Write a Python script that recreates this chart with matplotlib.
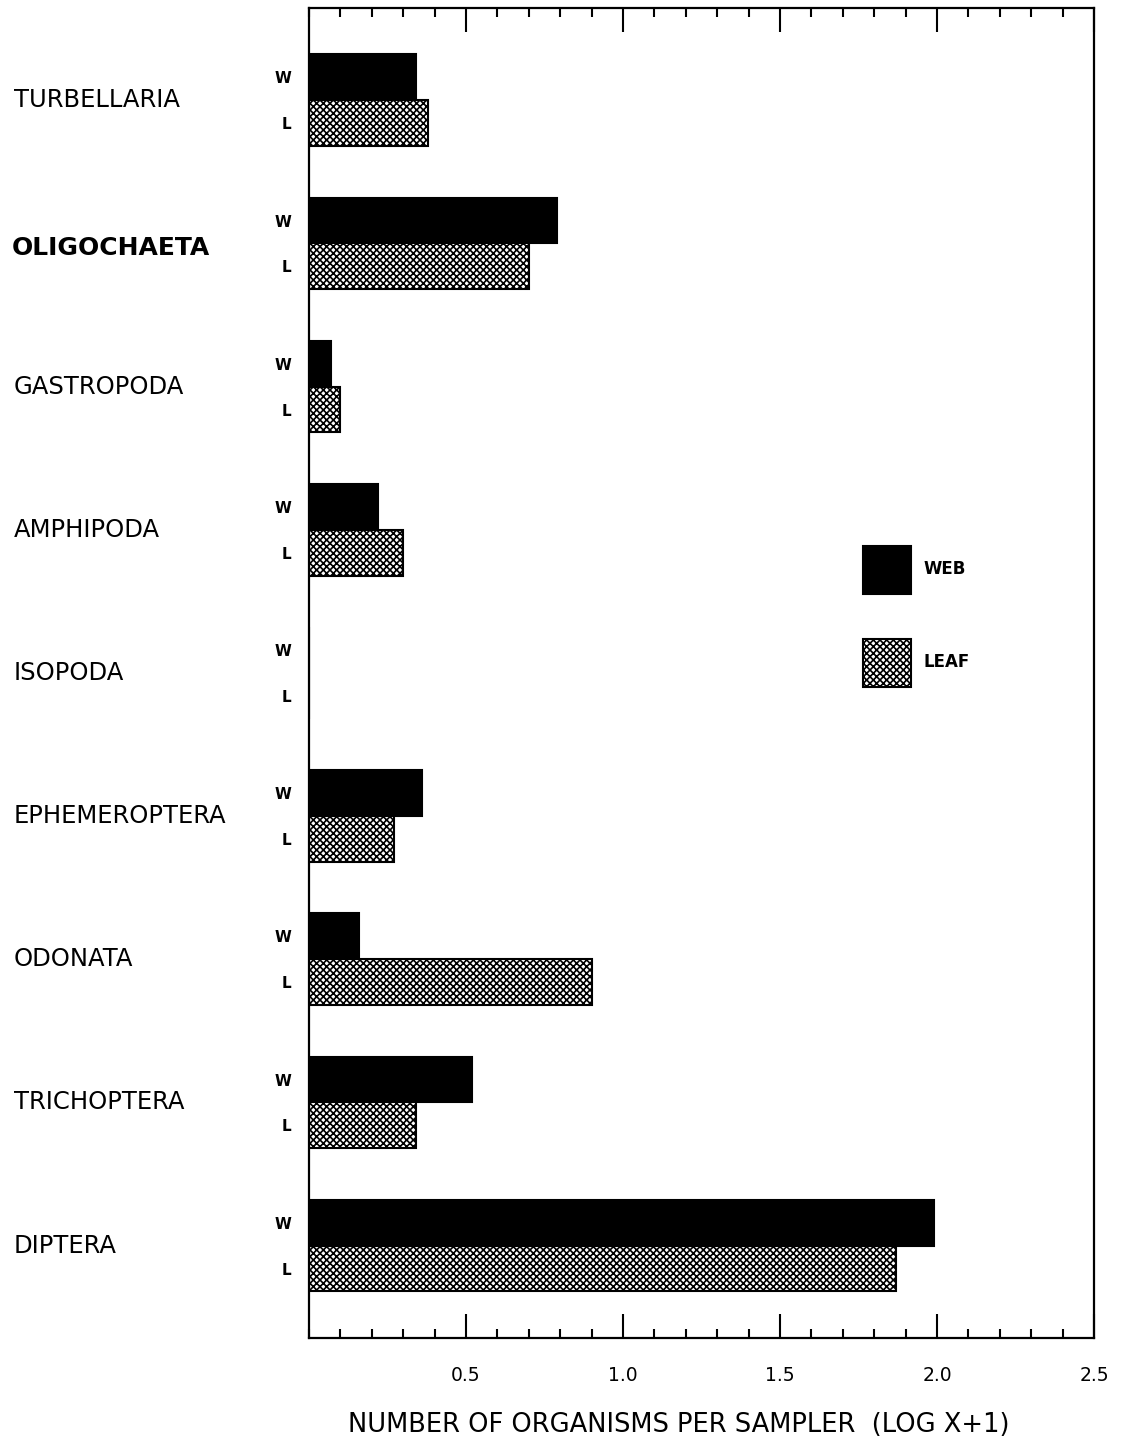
import matplotlib
matplotlib.use("Agg")
import matplotlib.pyplot as plt
from matplotlib.ticker import MultipleLocator, FixedLocator
from matplotlib.transforms import blended_transform_factory
import numpy as np

# Mean abundance per sampler, log(x+1)
taxa = ["TURBELLARIA", "OLIGOCHAETA", "GASTROPODA", "AMPHIPODA", "ISOPODA",
        "EPHEMEROPTERA", "ODONATA", "TRICHOPTERA", "DIPTERA"]
web = [0.34, 0.79, 0.07, 0.22, 0.0, 0.36, 0.16, 0.52, 1.99]
leaf = [0.38, 0.70, 0.10, 0.30, 0.0, 0.27, 0.90, 0.34, 1.87]
xticks = [0.5, 1.0, 1.5, 2.0, 2.5]
xticklabels = ["0.5", "1.0", "1.5", "2.0", "2.5"]

plt.rcParams["font.family"] = "DejaVu Sans"
plt.rcParams["hatch.linewidth"] = 1.2

fig = plt.figure(figsize=(11.23, 14.43), dpi=100)
ax = fig.add_axes([0.2752, 0.0728, 0.699, 0.9217])

y = np.arange(len(taxa))
h = 0.32
web_bars = ax.barh(y - h / 2, web, height=h, color="black", edgecolor="black",
                   linewidth=1.5, label="WEB")
leaf_bars = ax.barh(y + h / 2, leaf, height=h, color="white", edgecolor="black",
                    hatch="xxxxx", linewidth=1.5, label="LEAF")

ax.set_xlim(0, 2.5)
ax.set_ylim(len(taxa) - 1 + 0.645, -0.645)

# x axis: major every 0.5, minor every 0.1, ticks inside on top and bottom
ax.xaxis.set_major_locator(FixedLocator(xticks))
ax.set_xticklabels(xticklabels)
ax.xaxis.set_minor_locator(MultipleLocator(0.1))
ax.tick_params(axis="x", which="both", direction="in", top=True, bottom=True,
               width=1.5, labelsize=13.5, pad=20)
ax.tick_params(axis="x", which="major", length=17)
ax.tick_params(axis="x", which="minor", length=6.5)

# y axis: W / L marks next to each bar
wl_pos = np.concatenate([y - h / 2, y + h / 2])
wl_lab = ["W"] * len(taxa) + ["L"] * len(taxa)
ax.yaxis.set_major_locator(FixedLocator(wl_pos))
ax.set_yticklabels(wl_lab, fontsize=11, fontweight="bold")
ax.tick_params(axis="y", length=0, pad=13)

for s in ax.spines.values():
    s.set_linewidth(1.6)

# taxon names on the left
name_tr = blended_transform_factory(fig.transFigure, ax.transData)
for i, name in enumerate(taxa):
    bold = name == "OLIGOCHAETA"
    ax.text((12 if bold else 14) / 1123, i + (0.03 if bold else 0), name,
            transform=name_tr, ha="left", va="center",
            fontsize=18 if bold else 17.5, fontweight="bold" if bold else "normal")

fig.text(679 / 1123, 1 - 1425 / 1443, "NUMBER OF ORGANISMS PER SAMPLER  (LOG X+1)",
         ha="center", va="center", fontsize=18.5)

ax.legend(handles=[web_bars, leaf_bars], loc="upper left",
          bbox_to_anchor=(863 / 1123, 1 - 546 / 1443), bbox_transform=fig.transFigure,
          frameon=False, prop={"weight": "bold", "size": 12},
          handlelength=2.9, handleheight=4.05, labelspacing=2.7,
          handletextpad=0.75, borderpad=0, borderaxespad=0)

fig.savefig("out.png", dpi=100)
